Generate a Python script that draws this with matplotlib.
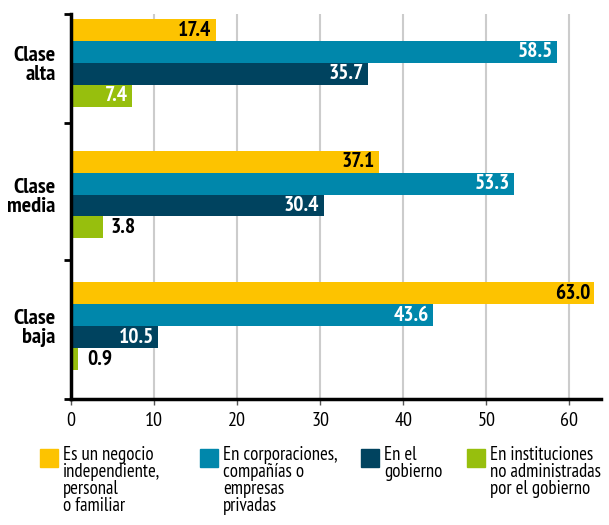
import matplotlib
matplotlib.use("Agg")
import matplotlib.pyplot as plt
from matplotlib.patches import Rectangle
import numpy as np

plt.rcParams['font.family'] = ['PT Sans Narrow', 'Fira Sans Condensed', 'Asap Condensed', 'DejaVu Sans']

clases = ["Clase\nalta", "Clase\nmedia", "Clase\nbaja"]
series = [
    "Es un negocio\nindependiente,\npersonal\no familiar",
    "En corporaciones,\ncompañías o\nempresas\nprivadas",
    "En el\ngobierno",
    "En instituciones\nno administradas\npor el gobierno",
]
negocio = [17.4, 37.1, 63.0]
corporaciones = [58.5, 53.3, 43.6]
gobierno = [35.7, 30.4, 10.5]
instituciones = [7.4, 3.8, 0.9]

colores = ["#fdc300", "#0087ab", "#00435f", "#97bf0d"]
txt_color = ["black", "white", "white", "white"]
valores = [negocio, corporaciones, gobierno, instituciones]

fig = plt.figure(figsize=(6.09, 5.25), dpi=100)
ax = fig.add_axes([71/609, 1 - 399/525, 530/609, 385/525])

centros = np.arange(len(clases)) * 6.0
offsets = [-1.5, -0.5, 0.5, 1.5]

for k, (vals, col) in enumerate(zip(valores, colores)):
    y = centros + offsets[k]
    ax.barh(y, vals, height=1.0, color=col, zorder=2)
    for yi, v in zip(y, vals):
        if v < 5:
            ax.annotate(f"{v:.1f}", (v, yi), xytext=(6, 0), textcoords="offset points",
                        ha="left", va="center", fontsize=15.5, fontweight="bold",
                        color="black", zorder=3)
        else:
            ax.annotate(f"{v:.1f}", (v, yi), xytext=(-3, 0), textcoords="offset points",
                        ha="right", va="center", fontsize=15.5, fontweight="bold",
                        color=txt_color[k], zorder=3)

ylo, yhi = 15.32, -2.23
ax.set_ylim(ylo, yhi)
ax.set_xlim(0, 63.8)

ax.set_yticks(centros)
ax.set_yticklabels(clases, fontsize=16, fontweight="bold", linespacing=1.0)
ax.set_yticks([yhi, 2.74, 8.98, ylo], minor=True)
ax.tick_params(axis="y", which="major", length=0, pad=11)
ax.tick_params(axis="y", which="minor", length=5, width=2, color="black")

ax.set_xticks(np.arange(0, 61, 10))
ax.tick_params(axis="x", length=4, width=1, color="#555555", labelsize=14.5, pad=5)
ax.grid(axis="x", color="#cccccc", linewidth=1.5, zorder=0)
ax.set_axisbelow(True)

for s in ["top", "right"]:
    ax.spines[s].set_visible(False)
ax.spines["left"].set_linewidth(2.5)
ax.spines["bottom"].set_linewidth(2.5)

# leyenda a mano: cuadro de color alineado con la primera línea
leg_x = [40, 200, 361, 467]
for x0, col, lab in zip(leg_x, colores, series):
    fig.patches.append(Rectangle((x0/609, 1 - 467/525), 18/609, 18/525,
                                 transform=fig.transFigure, color=col))
    fig.text((x0 + 23)/609, 1 - 446/525, lab, ha="left", va="top",
             fontsize=13.5, linespacing=0.92)

fig.savefig("out.png", dpi=100)
